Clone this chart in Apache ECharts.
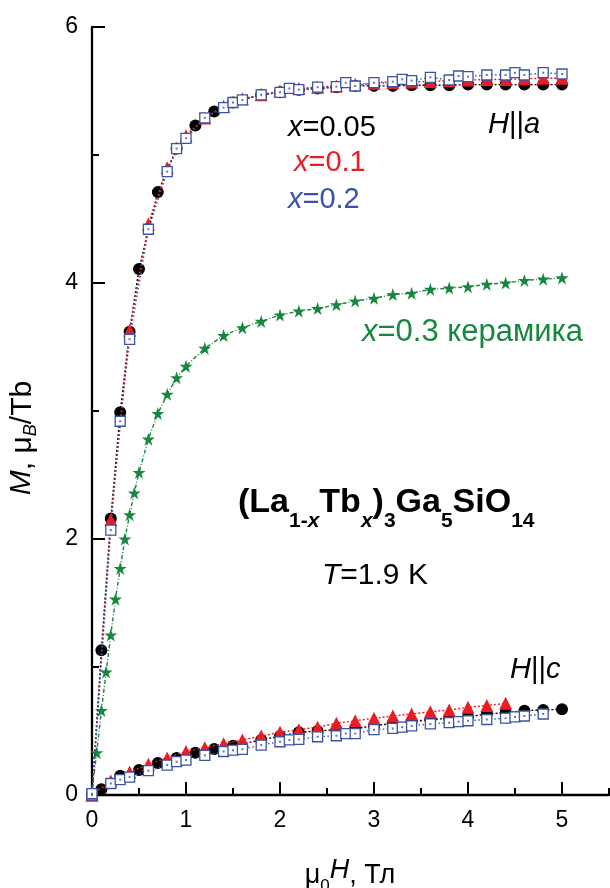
<!DOCTYPE html>
<html>
<head>
<meta charset="utf-8">
<script src="https://cdn.jsdelivr.net/npm/echarts@6/dist/echarts.min.js"></script>
<style>
  html, body { margin: 0; padding: 0; background: #fff; }
  #chart { width: 610px; height: 888px; }
</style>
</head>
<body>
<div id="chart"></div>
<script>
// H || a, x = 0.05
var fieldA005 = [0, 0.1, 0.2, 0.3, 0.4, 0.5, 0.7, 0.9, 1.1, 1.3, 1.5, 1.8, 2.0, 2.2, 2.4, 2.6, 2.8, 3.0, 3.2, 3.4, 3.6, 3.8, 4.0, 4.2, 4.4, 4.6, 4.8, 5.0]
var magA005 = [0, 1.13, 2.16, 2.99, 3.62, 4.11, 4.71, 5.05, 5.23, 5.34, 5.41, 5.47, 5.49, 5.51, 5.52, 5.53, 5.54, 5.54, 5.54, 5.545, 5.545, 5.545, 5.55, 5.55, 5.55, 5.55, 5.55, 5.55]
// H || a, x = 0.1
var fieldA01 = [0, 0.2, 0.4, 0.6, 0.8, 1.0, 1.2, 1.4, 1.6, 1.8, 2.0, 2.2, 2.4, 2.6, 2.8, 3.0, 3.2, 3.4, 3.6, 3.8, 4.0, 4.2, 4.4, 4.6, 4.8, 5.0]
var magA01 = [0, 2.15, 3.63, 4.46, 4.90, 5.15, 5.29, 5.38, 5.44, 5.47, 5.50, 5.52, 5.53, 5.54, 5.55, 5.56, 5.565, 5.57, 5.575, 5.58, 5.585, 5.59, 5.59, 5.595, 5.60, 5.60]
// H || a, x = 0.2
var fieldA02 = [0, 0.2, 0.3, 0.4, 0.6, 0.8, 0.9, 1.0, 1.2, 1.4, 1.5, 1.6, 1.8, 2.0, 2.1, 2.2, 2.4, 2.6, 2.7, 2.8, 3.0, 3.2, 3.3, 3.4, 3.6, 3.8, 3.9, 4.0, 4.2, 4.4, 4.5, 4.6, 4.8, 5.0]
var magA02 = [0, 2.07, 2.92, 3.56, 4.42, 4.87, 5.05, 5.13, 5.29, 5.37, 5.41, 5.43, 5.47, 5.49, 5.52, 5.51, 5.53, 5.534, 5.565, 5.539, 5.565, 5.573, 5.591, 5.581, 5.607, 5.586, 5.617, 5.612, 5.625, 5.625, 5.643, 5.625, 5.643, 5.633]
// x = 0.3 ceramic
var fieldCer = [0, 0.05, 0.1, 0.15, 0.2, 0.25, 0.3, 0.35, 0.4, 0.45, 0.5, 0.6, 0.7, 0.8, 0.9, 1.0, 1.2, 1.4, 1.6, 1.8, 2.0, 2.2, 2.4, 2.6, 2.8, 3.0, 3.2, 3.4, 3.6, 3.8, 4.0, 4.2, 4.4, 4.6, 4.8, 5.0]
var magCer = [0.03, 0.33, 0.66, 0.96, 1.25, 1.53, 1.77, 2.0, 2.19, 2.36, 2.52, 2.78, 2.98, 3.13, 3.26, 3.35, 3.49, 3.59, 3.65, 3.70, 3.75, 3.78, 3.80, 3.83, 3.86, 3.88, 3.91, 3.92, 3.95, 3.96, 3.97, 3.99, 4.00, 4.02, 4.03, 4.04]
// H || c, x = 0.05
var fieldC005 = [0, 0.1, 0.3, 0.5, 0.7, 0.9, 1.1, 1.3, 1.5, 1.8, 2.0, 2.2, 2.4, 2.6, 2.8, 3.0, 3.2, 3.4, 3.6, 3.8, 4.0, 4.2, 4.4, 4.6, 4.8, 5.0]
var magC005 = [0, 0.045, 0.15, 0.195, 0.25, 0.29, 0.33, 0.36, 0.385, 0.43, 0.46, 0.49, 0.50, 0.51, 0.52, 0.54, 0.56, 0.573, 0.59, 0.60, 0.61, 0.633, 0.643, 0.659, 0.664, 0.67]
// H || c, x = 0.1
var fieldC01 = [0, 0.2, 0.4, 0.6, 0.8, 1.0, 1.2, 1.4, 1.6, 1.8, 2.0, 2.2, 2.4, 2.6, 2.8, 3.0, 3.2, 3.4, 3.6, 3.8, 4.0, 4.2, 4.4]
var magC01 = [0, 0.11, 0.18, 0.24, 0.29, 0.34, 0.37, 0.40, 0.43, 0.46, 0.49, 0.51, 0.53, 0.56, 0.58, 0.60, 0.617, 0.633, 0.65, 0.664, 0.685, 0.70, 0.716]
// H || c, x = 0.2
var fieldC02 = [0, 0.2, 0.3, 0.4, 0.6, 0.8, 0.9, 1.0, 1.2, 1.4, 1.5, 1.6, 1.8, 2.0, 2.1, 2.2, 2.4, 2.6, 2.7, 2.8, 3.0, 3.2, 3.3, 3.4, 3.6, 3.8, 3.9, 4.0, 4.2, 4.4, 4.5, 4.6, 4.8]
var magC02 = [0.01, 0.09, 0.12, 0.14, 0.19, 0.234, 0.26, 0.273, 0.31, 0.34, 0.35, 0.357, 0.39, 0.416, 0.43, 0.435, 0.455, 0.463, 0.48, 0.48, 0.51, 0.52, 0.53, 0.54, 0.555, 0.565, 0.573, 0.58, 0.59, 0.60, 0.61, 0.617, 0.633]

var xMajorTicks = [0, 1, 2, 3, 4, 5]
var xMinorTicks = [0.5, 1.5, 2.5, 3.5, 4.5, 5.5]

var BLACK = '#000000', RED = '#ed1c24', BLUE = '#3a53a4', GREEN = '#17873f'
var FONT = 'Liberation Sans'
var STAR = 'path://M50,0L61.2,34.5L97.6,34.5L68.2,55.9L79.4,90.5L50,69.1L20.6,90.5L31.8,55.9L2.4,34.5L38.8,34.5Z'

function pairs(xs, ys) {
    return xs.map(function (v, i) { return [v, ys[i]] })
}

function curve(xs, ys, color, symbol, size, dash, z) {
    return {
        type: 'line',
        data: pairs(xs, ys),
        symbol: symbol,
        symbolSize: size,
        showAllSymbol: true,
        z: z,
        lineStyle: { color: color, width: 1.4, type: dash },
        itemStyle: { color: color },
        emphasis: { disabled: true }
    }
}

function squares(xs, ys, z) {
    var s = curve(xs, ys, BLUE, 'rect', 10, [1.5, 2.5], z)
    s.itemStyle = { color: '#ffffff', borderColor: BLUE, borderWidth: 1.3 }
    return s
}

function dots(xs, ys, z) {
    return {
        type: 'scatter',
        data: pairs(xs, ys),
        symbol: 'rect',
        symbolSize: 2,
        z: z,
        itemStyle: { color: BLUE },
        emphasis: { disabled: true }
    }
}

// rich text part; subscripts sit at the bottom of a taller line
function tok(size, color, italic, bold, lh) {
    return {
        fontSize: size, fontFamily: FONT, fill: color,
        fontStyle: italic ? 'italic' : 'normal',
        fontWeight: bold ? 'bold' : 'normal',
        lineHeight: lh || size, verticalAlign: lh ? 'bottom' : 'top'
    }
}

function label(x, y, text, color, size, opts) {
    opts = opts || {}
    var sub = opts.sub || Math.round(size * 0.6)
    return {
        type: 'text', x: x, y: y, rotation: opts.rotation || 0, z: 100,
        style: {
            text: text,
            fontSize: size, fontFamily: FONT, fill: color,
            fontWeight: opts.bold ? 'bold' : 'normal',
            textAlign: opts.align || 'left',
            textVerticalAlign: 'middle',
            rich: {
                n: tok(size, color, false, opts.bold),
                i: tok(size, color, true, opts.bold),
                s: tok(sub, color, false, opts.bold, opts.subLh),
                si: tok(sub, color, true, opts.bold, opts.subLh)
            }
        }
    }
}

var chart = echarts.init(document.getElementById('chart'))

var option = {
    animation: false,
    backgroundColor: '#ffffff',
    grid: { left: 92, top: 27, width: 517, height: 768, outerBoundsMode: 'none' },
    xAxis: [{
        type: 'value', min: 0, max: 5.5, position: 'bottom',
        axisLine: { lineStyle: { color: BLACK, width: 2.3 } },
        axisTick: { inside: true, length: 13, customValues: xMajorTicks, lineStyle: { color: BLACK, width: 2 } },
        axisLabel: { customValues: xMajorTicks, margin: 14, fontSize: 23, fontFamily: FONT, color: BLACK },
        splitLine: { show: false }
    }, {
        type: 'value', min: 0, max: 5.5, position: 'bottom', offset: 0,
        axisLine: { show: false },
        axisTick: { inside: true, length: 7, customValues: xMinorTicks, lineStyle: { color: BLACK, width: 2 } },
        axisLabel: { show: false },
        splitLine: { show: false }
    }],
    yAxis: {
        type: 'value', min: 0, max: 6, interval: 2,
        axisLine: { show: true, lineStyle: { color: BLACK, width: 2.3 } },
        axisTick: { show: true, inside: true, length: 13, lineStyle: { color: BLACK, width: 2 } },
        minorTick: { show: true, splitNumber: 2, length: 7, lineStyle: { color: BLACK, width: 2 } },
        axisLabel: { margin: 14, fontSize: 23, fontFamily: FONT, color: BLACK },
        splitLine: { show: false }
    },
    series: [
        curve(fieldCer, magCer, GREEN, STAR, 13, [4, 2, 1, 2], 2),
        curve(fieldA005, magA005, BLACK, 'circle', 12, [2, 2], 3),
        curve(fieldC005, magC005, BLACK, 'circle', 12, [2, 2], 3),
        curve(fieldA01, magA01, RED, 'triangle', 13, [2, 2], 4),
        curve(fieldC01, magC01, RED, 'triangle', 13, [2, 2], 4),
        squares(fieldA02, magA02, 5),
        squares(fieldC02, magC02, 5),
        dots(fieldA02, magA02, 6),
        dots(fieldC02, magC02, 6)
    ],
    graphic: [
        label(288, 128, '{i|x}=0.05', BLACK, 29),
        label(294, 163, '{i|x}=0.1', RED, 29),
        label(288, 200, '{i|x}=0.2', BLUE, 29),
        label(488, 125, '{i|H}||{i|a}', BLACK, 29),
        label(362, 332, '{i|x}=0.3 керамика', GREEN, 31),
        label(238, 509, '{n|(La}{s|1-}{si|x}{n|Tb}{si|x}{n|)}{s|3}{n|Ga}{s|5}{n|SiO}{s|14}', BLACK, 34, { bold: true, sub: 21, subLh: 46 }),
        label(322, 576, '{i|T}=1.9 K', BLACK, 30),
        label(510, 670, '{i|H}||{i|c}', BLACK, 29),
        label(23, 438, '{i|M}, μ{si|B}/Tb', BLACK, 30, { rotation: Math.PI / 2, align: 'center', sub: 18, subLh: 33 }),
        label(350, 876, 'μ{s|0}{i|H}, Тл', BLACK, 27, { align: 'center', sub: 17, subLh: 38 })
    ]
}

chart.setOption(option)
</script>
</body>
</html>
